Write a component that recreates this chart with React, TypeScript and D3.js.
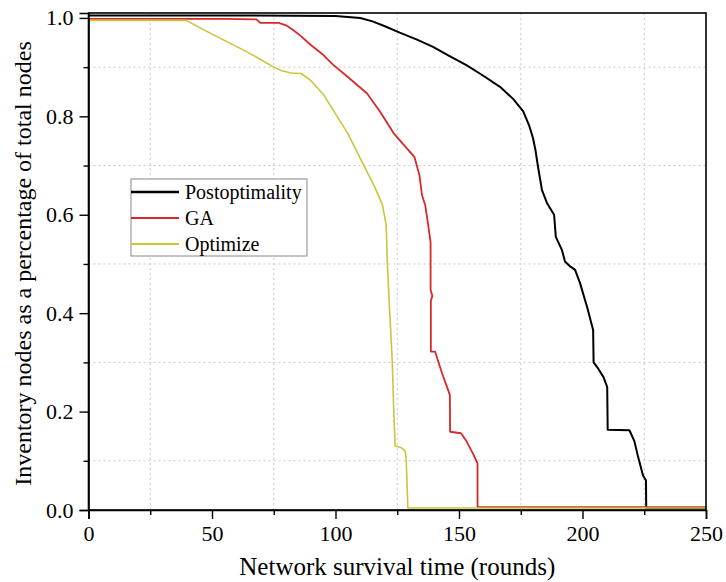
import React, { useEffect, useRef } from 'react';
import * as d3 from 'd3';

// rounds vs. share of nodes still alive
const postoptimality: [number, number][] = [
  [0, 1.005], [60, 1.005], [100, 1.004], [110, 1.0], [115, 0.993], [120, 0.983],
  [126, 0.97], [133, 0.956], [139.5, 0.941], [146, 0.923], [153, 0.904], [160, 0.882],
  [166.6, 0.86], [172, 0.835], [176, 0.81], [178.5, 0.78], [180, 0.755], [181, 0.73],
  [182, 0.697], [183.6, 0.65], [185.6, 0.624], [188.5, 0.6], [189.2, 0.555],
  [191.7, 0.528], [192.9, 0.505], [195, 0.495], [197, 0.488], [199, 0.461], [202, 0.41],
  [204.3, 0.366], [204.5, 0.3], [206, 0.29], [208.5, 0.27], [210, 0.25], [210.2, 0.163],
  [219, 0.162], [221, 0.14], [222.5, 0.108], [224.5, 0.07], [225.7, 0.06],
  [225.8, 0.004], [250, 0.004],
];

const ga: [number, number][] = [
  [0, 0.998], [55, 0.998], [68, 0.997], [69.5, 0.99], [77, 0.99], [80, 0.985],
  [83, 0.975], [86, 0.963], [90, 0.945], [95, 0.925], [99, 0.905], [105, 0.88],
  [112.7, 0.847], [118, 0.81], [123.5, 0.766], [128, 0.74], [132, 0.717], [134, 0.68],
  [135, 0.64], [136.3, 0.62], [137.5, 0.58], [138.2, 0.555], [138.5, 0.543],
  [138.5, 0.447], [139.2, 0.435], [138.6, 0.425], [138.6, 0.322], [140.3, 0.322],
  [143, 0.28], [146.3, 0.234], [146.4, 0.159], [150.8, 0.156], [153, 0.14],
  [155.6, 0.115], [157.5, 0.095], [157.5, 0.006], [250, 0.006],
];

const optimize: [number, number][] = [
  [0, 0.995], [39.5, 0.995], [50, 0.967], [64.6, 0.93], [75, 0.9], [78, 0.893],
  [82, 0.888], [86, 0.887], [90, 0.873], [95, 0.845], [99, 0.813], [105, 0.765],
  [111, 0.705], [116, 0.655], [119, 0.62], [120.5, 0.58], [121, 0.5], [121.7, 0.427],
  [123, 0.3], [123.6, 0.2], [124.1, 0.13], [126.5, 0.127], [128.2, 0.12],
  [128.6, 0.105], [129.3, 0.004], [250, 0.004],
];

const seriesNames = ['Postoptimality', 'GA', 'Optimize'];
const seriesColors = ['#000000', '#d42a2a', '#c9c63a'];
const seriesWidths = [2, 1.8, 1.6];

const xTicks = [0, 50, 100, 150, 200, 250];
const xMinor = [25, 75, 125, 175, 225];
const yTicks = [0, 0.2, 0.4, 0.6, 0.8, 1.0];
const yMinor = [0.1, 0.3, 0.5, 0.7, 0.9];

const xTitle = 'Network survival time (rounds)';
const yTitle = 'Inventory nodes as a percentage of total nodes';

export default function App() {
  const svgRef = useRef<SVGSVGElement>(null);

  useEffect(() => {
    document.body.style.margin = '0';
    const svg = d3.select(svgRef.current);
    svg.selectAll('*').remove();

    const W = 726;
    const H = 582;
    const left = 88.5, right = 706, top = 13, bottom = 510;
    const font = '"Liberation Serif", "Times New Roman", serif';

    const x = d3.scaleLinear().domain([0, 250]).range([left, right]);
    const y = d3.scaleLinear().domain([0, 1.01]).range([bottom, top]);

    svg.attr('width', W).attr('height', H);

    // dotted grid on the minor positions
    const grid = svg.append('g');
    grid.selectAll('.gx').data(xMinor).enter().append('line')
      .attr('x1', d => x(d)).attr('x2', d => x(d))
      .attr('y1', top).attr('y2', bottom)
      .attr('stroke', '#c8c8c8').attr('stroke-width', 1)
      .attr('stroke-dasharray', '2,3');
    grid.selectAll('.gy').data(yMinor).enter().append('line')
      .attr('x1', left).attr('x2', right)
      .attr('y1', d => y(d)).attr('y2', d => y(d))
      .attr('stroke', '#c8c8c8').attr('stroke-width', 1)
      .attr('stroke-dasharray', '2,3');

    // curves
    const line = d3.line<[number, number]>()
      .x(d => x(d[0]))
      .y(d => y(d[1]));

    [postoptimality, ga, optimize].forEach((data, i) => {
      svg.append('path')
        .datum(data)
        .attr('d', line)
        .attr('fill', 'none')
        .attr('stroke', seriesColors[i])
        .attr('stroke-width', seriesWidths[i])
        .attr('stroke-linejoin', 'round');
    });

    // axes
    const xAxis = svg.append('g')
      .attr('transform', `translate(0,${bottom})`)
      .call(d3.axisBottom(x).tickValues(xTicks).tickSize(9).tickPadding(6)
        .tickFormat(d3.format('d')));
    svg.append('g')
      .attr('transform', `translate(0,${bottom})`)
      .call(d3.axisBottom(x).tickValues(xMinor).tickSize(5).tickFormat(() => ''))
      .select('.domain').remove();

    const yAxis = svg.append('g')
      .attr('transform', `translate(${left},0)`)
      .call(d3.axisLeft(y).tickValues(yTicks).tickSize(9).tickPadding(6)
        .tickFormat(d3.format('.1f')));
    svg.append('g')
      .attr('transform', `translate(${left},0)`)
      .call(d3.axisLeft(y).tickValues(yMinor).tickSize(5).tickFormat(() => ''))
      .select('.domain').remove();

    svg.selectAll('.domain').attr('stroke', '#000').attr('stroke-width', 1.6);
    svg.selectAll('.tick line').attr('stroke', '#000').attr('stroke-width', 1.4);
    [xAxis, yAxis].forEach(a => {
      a.attr('font-family', font).attr('font-size', 22);
      a.selectAll('text')
        .attr('font-family', font).attr('font-size', 22).attr('fill', '#000');
    });

    // frame
    svg.append('rect')
      .attr('x', left).attr('y', top)
      .attr('width', right - left).attr('height', bottom - top)
      .attr('fill', 'none').attr('stroke', '#000').attr('stroke-width', 1.6);

    // titles
    svg.append('text')
      .attr('x', (left + right) / 2).attr('y', 575)
      .attr('text-anchor', 'middle')
      .attr('font-family', font).attr('font-size', 25)
      .text(xTitle);
    svg.append('text')
      .attr('transform', `translate(31,${(top + bottom) / 2 + 2}) rotate(-90)`)
      .attr('text-anchor', 'middle')
      .attr('font-family', font).attr('font-size', 24)
      .text(yTitle);

    // legend
    const lg = svg.append('g').attr('transform', 'translate(131,179)');
    lg.append('rect')
      .attr('width', 176).attr('height', 77)
      .attr('fill', '#fff').attr('stroke', '#888').attr('stroke-width', 1);
    seriesNames.forEach((name, i) => {
      const cy = 13 + i * 26;
      lg.append('line')
        .attr('x1', 0).attr('x2', 48).attr('y1', cy).attr('y2', cy)
        .attr('stroke', seriesColors[i]).attr('stroke-width', seriesWidths[i] + 0.4);
      lg.append('text')
        .attr('x', 54).attr('y', cy + 7)
        .attr('font-family', font).attr('font-size', 20)
        .text(name);
    });
  }, []);

  return <svg ref={svgRef} style={{ display: 'block' }}></svg>;
}
